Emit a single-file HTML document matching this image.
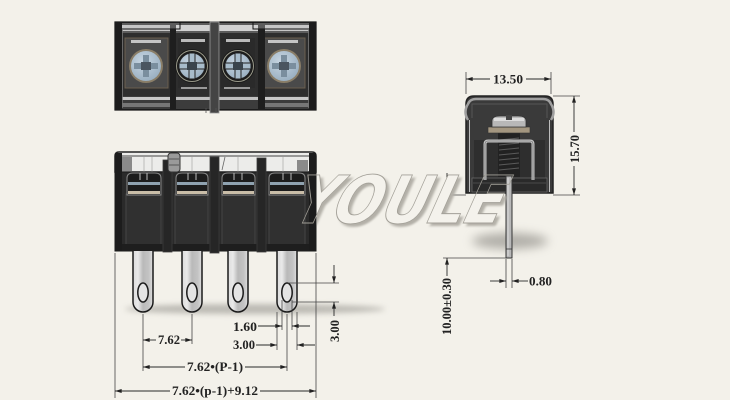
<!DOCTYPE html>
<html><head><meta charset="utf-8">
<style>
html,body{margin:0;padding:0;background:#f3f1ea;width:730px;height:400px;overflow:hidden}
svg{display:block}
.t{font-family:"Liberation Serif",serif;font-weight:bold;fill:#222;font-size:12.5px}
.d{stroke:#2a2a2a;stroke-width:0.9;fill:none}
.e{stroke:#444;stroke-width:0.8;fill:none}
</style></head><body>
<svg width="730" height="400" viewBox="0 0 730 400" xmlns="http://www.w3.org/2000/svg">
<defs>
 <filter id="b5" x="-50%" y="-200%" width="200%" height="500%"><feGaussianBlur stdDeviation="5"/></filter>
 <filter id="b3" x="-50%" y="-200%" width="200%" height="500%"><feGaussianBlur stdDeviation="3"/></filter>
 <filter id="b1"><feGaussianBlur stdDeviation="1.2"/></filter>
 <linearGradient id="pin" x1="0" x2="1">
   <stop offset="0" stop-color="#dcdcdc"/>
   <stop offset="0.25" stop-color="#e9e9e9"/>
   <stop offset="0.5" stop-color="#b9b9b9"/>
   <stop offset="0.8" stop-color="#c4c4c4"/>
   <stop offset="1" stop-color="#e0e0e0"/>
 </linearGradient>
 <radialGradient id="scr" cx="0.4" cy="0.35" r="0.7">
   <stop offset="0" stop-color="#c8d6e2"/>
   <stop offset="1" stop-color="#98aec0"/>
 </radialGradient>
 <marker id="ar" viewBox="0 0 10 6" refX="10" refY="3" markerWidth="7" markerHeight="4" markerUnits="userSpaceOnUse" orient="auto-start-reverse">
   <path d="M0,0 L10,3 L0,6z" fill="#222"/>
 </marker>
 <clipPath id="wmfill">
   <rect x="317" y="0" width="148" height="400"/>
   <rect x="465" y="194" width="120" height="200"/>
 </clipPath>
</defs>

<!-- ================= TOP VIEW ================= -->
<g>
 <rect x="115" y="22" width="201" height="88" fill="#2e2e2e" stroke="#111" stroke-width="1.2"/>
 <rect x="116" y="23" width="199" height="10" fill="#5c5c5c"/>
 <rect x="122" y="25" width="48" height="6" fill="#c6c6c6"/>
 <rect x="176" y="25" width="34" height="6" fill="#d2d2d2"/>
 <rect x="219" y="25" width="39" height="6" fill="#d2d2d2"/>
 <rect x="265" y="25" width="44" height="6" fill="#c6c6c6"/>
 <rect x="120" y="22" width="60" height="7" fill="none" stroke="#111" stroke-width="1"/>
 <rect x="253" y="22" width="60" height="7" fill="none" stroke="#111" stroke-width="1"/>
 <rect x="125" y="38" width="43" height="50" fill="#4a4a4a" stroke="#6a5f4f" stroke-width="1"/>
 <rect x="178" y="38" width="30" height="50" fill="#2a2a2a"/>
 <rect x="221" y="38" width="34" height="50" fill="#2a2a2a"/>
 <rect x="262" y="38" width="43" height="50" fill="#4a4a4a" stroke="#6a5f4f" stroke-width="1"/>
 <rect x="131" y="40" width="30" height="3" fill="#c4c4c4"/>
 <rect x="181" y="39" width="24" height="3" fill="#bbbbbb"/>
 <rect x="226" y="39" width="24" height="3" fill="#bbbbbb"/>
 <rect x="268" y="40" width="30" height="3" fill="#c4c4c4"/>
 <rect x="181" y="87" width="26" height="2" fill="#9a9a9a"/>
 <rect x="224" y="87" width="26" height="2" fill="#9a9a9a"/>
 <rect x="116" y="96" width="199" height="13" fill="#3c3c3c"/>
 <rect x="122" y="97" width="48" height="3" fill="#c8c8c8"/>
 <rect x="176" y="97" width="34" height="3" fill="#c0c0c0"/>
 <rect x="219" y="97" width="39" height="3" fill="#c0c0c0"/>
 <rect x="265" y="97" width="44" height="3" fill="#c8c8c8"/>
 <rect x="122" y="103" width="48" height="4" fill="#777"/>
 <rect x="265" y="103" width="44" height="4" fill="#777"/>
 <rect x="115" y="22" width="7" height="88" fill="#1c1c1c"/>
 <line x1="122.5" y1="30" x2="122.5" y2="108" stroke="#777" stroke-width="0.8"/>
 <rect x="170" y="29" width="6" height="81" fill="#1e1e1e"/>
 <rect x="210" y="22" width="9" height="91" fill="#444" stroke="#999" stroke-width="0.8"/>
 <rect x="258" y="29" width="7" height="81" fill="#1e1e1e"/>
 <rect x="309" y="22" width="7" height="88" fill="#1c1c1c"/>
 <line x1="308.5" y1="30" x2="308.5" y2="108" stroke="#777" stroke-width="0.8"/>
 <line x1="206" y1="108" x2="206" y2="113" stroke="#555" stroke-width="0.8"/>
 <line x1="216" y1="108" x2="216" y2="113" stroke="#555" stroke-width="0.8"/>

 <g>
  <circle cx="146" cy="66" r="17" fill="#8a7e68"/>
  <circle cx="146" cy="66" r="15" fill="url(#scr)"/>
  <rect x="134" y="63" width="24" height="6" fill="#7a8e9e"/>
  <rect x="143" y="55" width="6" height="22" fill="#7a8e9e"/>
  <rect x="141" y="62" width="10" height="8" fill="#4a5560"/>
 </g>
 <g>
  <circle cx="284" cy="66" r="17" fill="#8a7e68"/>
  <circle cx="284" cy="66" r="15" fill="url(#scr)"/>
  <rect x="272" y="63" width="24" height="6" fill="#7a8e9e"/>
  <rect x="281" y="55" width="6" height="22" fill="#7a8e9e"/>
  <rect x="279" y="62" width="10" height="8" fill="#4a5560"/>
 </g>
 <g>
  <circle cx="192" cy="66" r="17" fill="#1a1a1a"/>
  <circle cx="192" cy="66" r="15.5" fill="none" stroke="#9a9a8a" stroke-width="1"/>
  <circle cx="192" cy="66" r="13" fill="url(#scr)" stroke="#222" stroke-width="1"/>
  <rect x="179" y="63" width="26" height="6" fill="#a8bccb" stroke="#222" stroke-width="1"/>
  <rect x="189" y="53" width="6" height="26" fill="#a8bccb" stroke="#222" stroke-width="1"/>
  <rect x="187" y="62" width="10" height="8" fill="#3a444c"/>
 </g>
 <g>
  <circle cx="238" cy="66" r="17" fill="#1a1a1a"/>
  <circle cx="238" cy="66" r="15.5" fill="none" stroke="#9a9a8a" stroke-width="1"/>
  <circle cx="238" cy="66" r="13" fill="url(#scr)" stroke="#222" stroke-width="1"/>
  <rect x="225" y="63" width="26" height="6" fill="#a8bccb" stroke="#222" stroke-width="1"/>
  <rect x="235" y="53" width="6" height="26" fill="#a8bccb" stroke="#222" stroke-width="1"/>
  <rect x="233" y="62" width="10" height="8" fill="#3a444c"/>
 </g>
</g>

<!-- ================= FRONT VIEW ================= -->
<ellipse cx="255" cy="309" rx="130" ry="5" fill="#8e8c86" opacity="0.55" filter="url(#b3)"/>
<g>
 <path d="M115,172 L115,156 Q115,152 119,152 L312,152 Q316,152 316,156 L316,172 Z" fill="#ececea" stroke="#222" stroke-width="1.5"/>
 <line x1="116" y1="156" x2="315" y2="156" stroke="#444" stroke-width="1"/>
 <rect x="122" y="157" width="10" height="15" fill="#8a8a8a"/>
 <rect x="297" y="160" width="11" height="12" fill="#8a8a8a"/>
 <line x1="144" y1="157" x2="144" y2="172" stroke="#bbb" stroke-width="1"/>
 <line x1="152" y1="157" x2="152" y2="172" stroke="#bbb" stroke-width="1"/>
 <line x1="192" y1="157" x2="192" y2="172" stroke="#bbb" stroke-width="1"/>
 <line x1="238" y1="157" x2="238" y2="172" stroke="#bbb" stroke-width="1"/>
 <line x1="283" y1="157" x2="283" y2="172" stroke="#bbb" stroke-width="1"/>
 <line x1="225" y1="157" x2="222" y2="170" stroke="#666" stroke-width="0.8"/>
 <rect x="115" y="172" width="201" height="79" fill="#2a2a2a" stroke="#1a1a1a" stroke-width="1"/>
 <rect x="126" y="194" width="35" height="51" fill="#303030" stroke="#454545" stroke-width="1"/>
 <rect x="175" y="194" width="33" height="51" fill="#303030" stroke="#454545" stroke-width="1"/>
 <rect x="222" y="194" width="33" height="51" fill="#303030" stroke="#454545" stroke-width="1"/>
 <rect x="269" y="194" width="36" height="51" fill="#303030" stroke="#454545" stroke-width="1"/>
 <rect x="116" y="244" width="199" height="7" fill="#1e1e1e"/>
 <rect x="115" y="153" width="7" height="98" fill="#1c1c1c"/>
 <rect x="163" y="160" width="9" height="92" fill="#262626" stroke="#3d3d3d" stroke-width="0.8"/>
 <rect x="168" y="153" width="12" height="19" rx="3" fill="#9a9a9a" stroke="#333" stroke-width="1"/>
 <line x1="169" y1="159" x2="179" y2="159" stroke="#444" stroke-width="0.8"/>
 <line x1="169" y1="165" x2="179" y2="165" stroke="#444" stroke-width="0.8"/>
 <rect x="210" y="157" width="9" height="96" fill="#262626" stroke="#3d3d3d" stroke-width="0.8"/>
 <rect x="257" y="158" width="9" height="94" fill="#262626" stroke="#3d3d3d" stroke-width="0.8"/>
 <rect x="309" y="153" width="7" height="98" fill="#1c1c1c"/>
 <!-- screw caps -->
 <g>
  <path d="M127,195 L127,178 Q127,173 133,173 L155,173 Q161,173 161,178 L161,195 Z" fill="#1c1c1c" stroke="#8a8a8a" stroke-width="1"/>
  <line x1="140" y1="173" x2="140" y2="180" stroke="#bbb" stroke-width="1"/>
  <line x1="147" y1="173" x2="147" y2="180" stroke="#bbb" stroke-width="1"/>
  <rect x="128" y="182" width="32" height="3" fill="#8fa2b0"/>
  <rect x="128" y="191" width="32" height="3" fill="#c9bda8"/>
 </g>
 <g>
  <path d="M176,195 L176,178 Q176,173 182,173 L202,173 Q208,173 208,178 L208,195 Z" fill="#1c1c1c" stroke="#8a8a8a" stroke-width="1"/>
  <line x1="188" y1="173" x2="188" y2="180" stroke="#bbb" stroke-width="1"/>
  <line x1="196" y1="173" x2="196" y2="180" stroke="#bbb" stroke-width="1"/>
  <rect x="177" y="182" width="30" height="3" fill="#8fa2b0"/>
  <rect x="177" y="191" width="30" height="3" fill="#c9bda8"/>
 </g>
 <g>
  <path d="M222,195 L222,178 Q222,173 228,173 L249,173 Q255,173 255,178 L255,195 Z" fill="#1c1c1c" stroke="#8a8a8a" stroke-width="1"/>
  <line x1="234" y1="173" x2="234" y2="180" stroke="#bbb" stroke-width="1"/>
  <line x1="242" y1="173" x2="242" y2="180" stroke="#bbb" stroke-width="1"/>
  <rect x="223" y="182" width="31" height="3" fill="#8fa2b0"/>
  <rect x="223" y="191" width="31" height="3" fill="#c9bda8"/>
 </g>
 <g>
  <path d="M269,195 L269,178 Q269,173 275,173 L299,173 Q305,173 305,178 L305,195 Z" fill="#1c1c1c" stroke="#8a8a8a" stroke-width="1"/>
  <line x1="283" y1="173" x2="283" y2="180" stroke="#bbb" stroke-width="1"/>
  <line x1="291" y1="173" x2="291" y2="180" stroke="#bbb" stroke-width="1"/>
  <rect x="270" y="182" width="34" height="3" fill="#8fa2b0"/>
  <rect x="270" y="191" width="34" height="3" fill="#c9bda8"/>
 </g>
 <!-- pins -->
 <g stroke="#1a1a1a" stroke-width="1.5">
  <path d="M133,251 L133,302 A10,10 0 0 0 153,302 L153,251" fill="url(#pin)"/>
  <path d="M182,251 L182,302 A10,10 0 0 0 202,302 L202,251" fill="url(#pin)"/>
  <path d="M228,251 L228,302 A10,10 0 0 0 248,302 L248,251" fill="url(#pin)"/>
  <path d="M277,251 L277,302 A10,10 0 0 0 297,302 L297,251" fill="url(#pin)"/>
  <ellipse cx="143" cy="292.5" rx="5.2" ry="9.5" fill="#e4e4e4"/>
  <ellipse cx="192" cy="292.5" rx="5.2" ry="9.5" fill="#e4e4e4"/>
  <ellipse cx="238" cy="292.5" rx="5.2" ry="9.5" fill="#e4e4e4"/>
  <ellipse cx="287" cy="292.5" rx="5.2" ry="9.5" fill="#e4e4e4"/>
 </g>
</g>

<!-- front dimensions -->
<g class="e">
 <line x1="115" y1="253" x2="115" y2="398"/>
 <line x1="316" y1="253" x2="316" y2="398"/>
 <line x1="143" y1="314" x2="143" y2="371"/>
 <line x1="192" y1="314" x2="192" y2="344"/>
 <line x1="287" y1="314" x2="287" y2="371"/>
 <line x1="277" y1="312" x2="277" y2="350"/>
 <line x1="297" y1="312" x2="297" y2="350"/>
 <line x1="282" y1="300" x2="282" y2="330"/>
 <line x1="292" y1="300" x2="292" y2="330"/>
 <line x1="288" y1="283" x2="339" y2="283"/>
 <line x1="292" y1="302" x2="339" y2="302"/>
</g>
<g class="d">
 <line x1="156" y1="340" x2="143" y2="340" marker-end="url(#ar)"/>
 <line x1="181" y1="340" x2="192" y2="340" marker-end="url(#ar)"/>
 <line x1="185" y1="367" x2="143" y2="367" marker-end="url(#ar)"/>
 <line x1="245" y1="367" x2="287" y2="367" marker-end="url(#ar)"/>
 <line x1="170" y1="391" x2="115" y2="391" marker-end="url(#ar)"/>
 <line x1="260" y1="391" x2="316" y2="391" marker-end="url(#ar)"/>
 <line x1="258" y1="326" x2="282" y2="326" marker-end="url(#ar)"/>
 <line x1="310" y1="326" x2="292" y2="326" marker-end="url(#ar)"/>
 <line x1="256" y1="345" x2="277" y2="345" marker-end="url(#ar)"/>
 <line x1="315" y1="345" x2="297" y2="345" marker-end="url(#ar)"/>
 <line x1="334" y1="265" x2="334" y2="283" marker-end="url(#ar)"/>
 <line x1="334" y1="316" x2="334" y2="302" marker-end="url(#ar)"/>
</g>
<text class="t" x="158" y="344" textLength="22" lengthAdjust="spacingAndGlyphs">7.62</text>
<text class="t" x="187" y="371" textLength="56" lengthAdjust="spacingAndGlyphs">7.62•(P-1)</text>
<text class="t" x="172" y="395" textLength="86" lengthAdjust="spacingAndGlyphs">7.62•(p-1)+9.12</text>
<text class="t" x="233" y="331" textLength="24" lengthAdjust="spacingAndGlyphs">1.60</text>
<text class="t" x="233" y="349" textLength="22" lengthAdjust="spacingAndGlyphs">3.00</text>
<text class="t" transform="translate(339,342) rotate(-90)" textLength="22" lengthAdjust="spacingAndGlyphs">3.00</text>

<!-- ================= SIDE VIEW ================= -->
<ellipse cx="510" cy="241" rx="38" ry="8" fill="#7a7872" opacity="0.55" filter="url(#b5)"/>
<g>
 <path d="M466,193 L466,104 Q466,96 474,96 L545,96 Q553,96 553,104 L553,193 Z" fill="#3a3a3a" stroke="#222" stroke-width="1.5"/>
 <path d="M468,120 Q463,112 468,104 Q470,99 476,99 L543,99 Q549,99 551,104 Q556,112 551,120" fill="none" stroke="#a0a0a0" stroke-width="2.5"/>
 <path d="M472,118 L472,104 L547,104 L547,118" fill="none" stroke="#555" stroke-width="1"/>
 <line x1="469.5" y1="120" x2="469.5" y2="192" stroke="#bdbdbd" stroke-width="1"/>
 <line x1="549.5" y1="120" x2="549.5" y2="192" stroke="#bdbdbd" stroke-width="1"/>
 <rect x="474" y="140" width="71" height="38" fill="#2e2e2e"/>
 <rect x="472" y="178" width="75" height="14" fill="#2a2a2a" stroke="#666" stroke-width="0.8"/>
 <line x1="473" y1="183" x2="546" y2="183" stroke="#555" stroke-width="0.8"/>
 <rect x="498" y="133" width="22" height="44" fill="#222"/>
 <g stroke="#5a5a5a" stroke-width="1">
  <line x1="499" y1="140" x2="519" y2="138"/>
  <line x1="499" y1="145" x2="519" y2="143"/>
  <line x1="499" y1="150" x2="519" y2="148"/>
  <line x1="499" y1="155" x2="519" y2="153"/>
  <line x1="499" y1="160" x2="519" y2="158"/>
  <line x1="499" y1="165" x2="519" y2="163"/>
  <line x1="499" y1="170" x2="519" y2="168"/>
 </g>
 <path d="M485,180 L485,144 Q485,141 488,141 L530,141 Q533,141 533,144 L533,180" fill="none" stroke="#c4c4c4" stroke-width="3"/>
 <path d="M485,180 L485,144 Q485,141 488,141 L530,141 Q533,141 533,144 L533,180" fill="none" stroke="#555" stroke-width="0.6"/>
 <rect x="488" y="127" width="42" height="6" fill="#a39680" stroke="#333" stroke-width="0.6"/>
 <path d="M492,127 L492,121 Q492,116 500,116 L518,116 Q526,116 526,121 L526,127 Z" fill="#b8b8b8" stroke="#333" stroke-width="0.8"/>
 <rect x="494" y="118" width="30" height="3" fill="#dcdcdc"/>
 <rect x="506" y="115" width="6" height="5" fill="#444"/>
 <rect x="506" y="176" width="6" height="82" fill="#b8b8b8" stroke="#333" stroke-width="1"/>
 <line x1="508" y1="178" x2="508" y2="256" stroke="#dcdcdc" stroke-width="1"/>
 <line x1="506" y1="249" x2="512" y2="249" stroke="#333" stroke-width="0.8"/>
</g>

<!-- side dimensions -->
<g class="e">
 <line x1="466" y1="72" x2="466" y2="94"/>
 <line x1="551" y1="72" x2="551" y2="94"/>
 <line x1="553" y1="96" x2="580" y2="96"/>
 <line x1="553" y1="195" x2="580" y2="195"/>
 <line x1="443" y1="195" x2="466" y2="195"/>
 <line x1="443" y1="258" x2="506" y2="258"/>
 <line x1="506" y1="259" x2="506" y2="288"/>
 <line x1="512" y1="259" x2="512" y2="288"/>
</g>
<g class="d">
 <line x1="490" y1="79" x2="466" y2="79" marker-end="url(#ar)"/>
 <line x1="526" y1="79" x2="551" y2="79" marker-end="url(#ar)"/>
 <line x1="574" y1="132" x2="574" y2="96" marker-end="url(#ar)"/>
 <line x1="574" y1="166" x2="574" y2="195" marker-end="url(#ar)"/>
 <line x1="447" y1="173" x2="447" y2="195" marker-end="url(#ar)"/>
 <line x1="447" y1="276" x2="447" y2="258" marker-end="url(#ar)"/>
 <line x1="490" y1="281" x2="506" y2="281" marker-end="url(#ar)"/>
 <line x1="528" y1="281" x2="512" y2="281" marker-end="url(#ar)"/>
</g>
<text class="t" x="493" y="83.5" textLength="30" lengthAdjust="spacingAndGlyphs">13.50</text>
<text class="t" transform="translate(579,163) rotate(-90)" textLength="28" lengthAdjust="spacingAndGlyphs">15.70</text>
<text class="t" transform="translate(451,335) rotate(-90)" textLength="57" lengthAdjust="spacingAndGlyphs">10.00±0.30</text>
<text class="t" x="529" y="285.5" textLength="23" lengthAdjust="spacingAndGlyphs">0.80</text>

<!-- ================= WATERMARK ================= -->
<g clip-path="url(#wmfill)">
 <text transform="translate(290,226) skewX(-24)" font-family="'DejaVu Sans', sans-serif" font-weight="bold" font-size="66" textLength="210" lengthAdjust="spacingAndGlyphs" fill="#b3b0a8" filter="url(#b1)">YOULE</text>
 <text transform="translate(287,223) skewX(-24)" font-family="'DejaVu Sans', sans-serif" font-weight="bold" font-size="66" textLength="210" lengthAdjust="spacingAndGlyphs" fill="#f4f2ec">YOULE</text>
</g>
<text transform="translate(287,223) skewX(-24)" font-family="'DejaVu Sans', sans-serif" font-weight="bold" font-size="66" textLength="210" lengthAdjust="spacingAndGlyphs" fill="none" stroke="#a3a098" stroke-width="0.9">YOULE</text>

</svg>
</body></html>
